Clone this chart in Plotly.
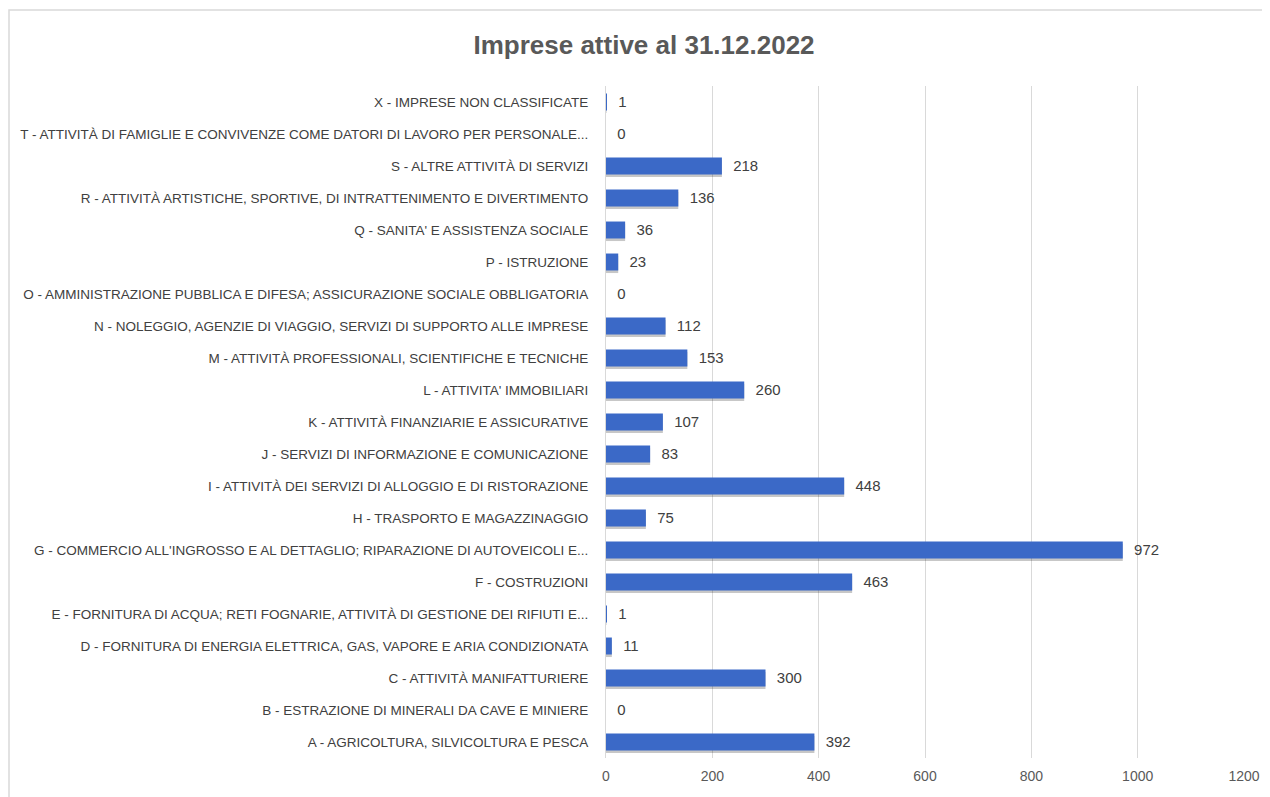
import plotly.graph_objects as go

categories = [
    "A - AGRICOLTURA, SILVICOLTURA E PESCA",
    "B - ESTRAZIONE DI MINERALI DA CAVE E MINIERE",
    "C - ATTIVITÀ MANIFATTURIERE",
    "D - FORNITURA DI ENERGIA ELETTRICA, GAS, VAPORE E ARIA CONDIZIONATA",
    "E - FORNITURA DI ACQUA; RETI FOGNARIE, ATTIVITÀ DI GESTIONE DEI RIFIUTI E...",
    "F - COSTRUZIONI",
    "G - COMMERCIO ALL'INGROSSO E AL DETTAGLIO; RIPARAZIONE DI AUTOVEICOLI E...",
    "H - TRASPORTO E MAGAZZINAGGIO",
    "I - ATTIVITÀ DEI SERVIZI DI ALLOGGIO E DI RISTORAZIONE",
    "J - SERVIZI DI INFORMAZIONE E COMUNICAZIONE",
    "K - ATTIVITÀ FINANZIARIE E ASSICURATIVE",
    "L - ATTIVITA' IMMOBILIARI",
    "M - ATTIVITÀ PROFESSIONALI, SCIENTIFICHE E TECNICHE",
    "N - NOLEGGIO, AGENZIE DI VIAGGIO, SERVIZI DI SUPPORTO ALLE IMPRESE",
    "O - AMMINISTRAZIONE PUBBLICA E DIFESA; ASSICURAZIONE SOCIALE OBBLIGATORIA",
    "P - ISTRUZIONE",
    "Q - SANITA' E ASSISTENZA SOCIALE",
    "R - ATTIVITÀ ARTISTICHE, SPORTIVE, DI INTRATTENIMENTO E DIVERTIMENTO",
    "S - ALTRE ATTIVITÀ DI SERVIZI",
    "T - ATTIVITÀ DI FAMIGLIE E CONVIVENZE COME DATORI DI LAVORO PER PERSONALE...",
    "X - IMPRESE NON CLASSIFICATE",
]
values = [392, 0, 300, 11, 1, 463, 972, 75, 448, 83, 107, 260, 153, 112, 0, 23, 36, 136, 218, 0, 1]
x_ticks = [0, 200, 400, 600, 800, 1000, 1200]

FONT = "Liberation Sans, Arial, sans-serif"
BAR_W = 0.53

fig = go.Figure()
# soft drop shadow under each bar
fig.add_trace(go.Bar(
    y=categories,
    x=values,
    orientation="h",
    marker=dict(color="rgba(0,0,0,0.22)", line=dict(width=0)),
    width=BAR_W,
    offset=-BAR_W / 2 - 0.08,
    hoverinfo="skip",
))
fig.add_trace(go.Bar(
    y=categories,
    x=values,
    orientation="h",
    marker=dict(color="#3B69C7", line=dict(width=0)),
    width=BAR_W,
    offset=-BAR_W / 2,
    text=values,
    texttemplate="  %{x}",
    textposition="outside",
    cliponaxis=False,
    textfont=dict(family=FONT, size=15, color="#404040"),
))

# the page body adds an 8px offset, so figure coords = screen coords - 8
W, H = 1262, 789
ml, mr, mt, mb = 598, W - 1236, 78, H - 750
pw, ph = W - ml - mr, H - mt - mb
fig.update_layout(
    width=W, height=H,
    margin=dict(l=ml, r=mr, t=mt, b=mb, autoexpand=False),
    paper_bgcolor="white", plot_bgcolor="white",
    showlegend=False,
    barmode="overlay",
    title=dict(text="<b>Imprese attive al 31.12.2022</b>", x=636 / W, xref="container", xanchor="center",
               y=1 - 37 / H, yref="container", yanchor="middle",
               font=dict(family=FONT, size=26, color="#595959")),
    xaxis=dict(range=[0, 1200], tickvals=x_ticks, showgrid=True, gridcolor="#d9d9d9", gridwidth=1,
               zeroline=False, showline=False, ticks="", automargin=False,
               ticklabelstandoff=8,
               tickfont=dict(family=FONT, size=14, color="#595959")),
    yaxis=dict(categoryorder="array", categoryarray=categories, showgrid=False, zeroline=False,
               showline=True, linecolor="#d9d9d9", linewidth=1, ticks="", automargin=False,
               ticklabelstandoff=14,
               tickfont=dict(family=FONT, size=13.5, color="#404040"),
               range=[-0.5, len(categories) - 0.5]),
    shapes=[dict(type="rect", xref="paper", yref="paper",
                 x0=(1 - ml) / pw, x1=(W + 20 - ml) / pw,
                 y0=-(mb + 20) / ph, y1=(H - 2 - mb) / ph,
                 line=dict(color="#d9d9d9", width=1.5), fillcolor="rgba(0,0,0,0)", layer="below")],
)

fig.write_html("out.html")
